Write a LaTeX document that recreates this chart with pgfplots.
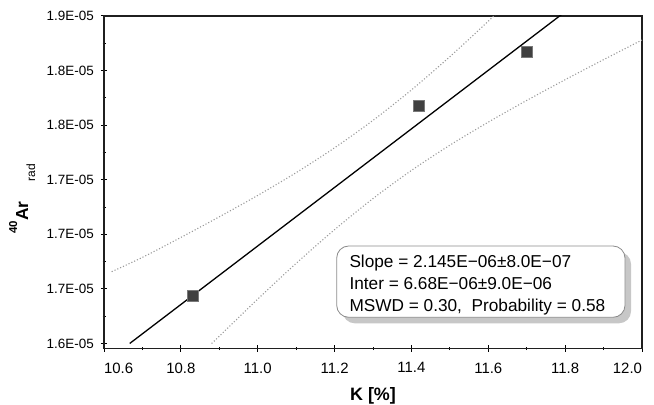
\documentclass[border=0pt]{standalone}
\usepackage{pgfplots}
\pgfplotsset{compat=1.18}
\usepackage{fontspec}
\setmainfont{Liberation Sans}
\definecolor{mk}{HTML}{404040}
\definecolor{band}{HTML}{9A9A9A}
\begin{document}
\begin{tikzpicture}
\useasboundingbox (-104bp,-56.5bp) rectangle (550bp,348.5bp);
\begin{axis}[
  at={(0,0)}, anchor=south west,
  scale only axis, width=538bp, height=332.5bp,
  xmin=10.6, xmax=12.0, ymin=1.6163, ymax=1.86,
  xtick={10.6,10.8,11.0,11.2,11.4,11.6,11.8,12.0},
  xticklabels={{\makebox[0pt][l]{10.6}},10.8,11.0,11.2,11.4,11.6,11.8,{\makebox[0pt][r]{12.0}}},
  minor x tick num=1,
  ytick={1.62,1.66,1.70,1.74,1.78,1.82,1.86},
  yticklabels={1.6E-05,1.7E-05,1.7E-05,1.7E-05,1.8E-05,1.8E-05,1.9E-05},
  minor y tick num=1,
  tick pos=left,
  tick align=center,
  major tick length=6bp, minor tick length=3bp,
  tick style={black, line width=1bp},
  axis line style={line width=1.6bp, color=black!88},
  xticklabel style={font=\fontsize{15}{15}\selectfont, anchor=north, inner sep=0pt, yshift=-11bp},
  yticklabel style={font=\fontsize{13.5}{13.5}\selectfont, anchor=east, inner sep=0pt, xshift=-7bp},
  clip=true,
]
\addplot[band, dotted, line width=1.1bp, smooth] coordinates {
  (10.62,1.6726) (10.7,1.6831) (10.8,1.6977) (10.9,1.7128) (11.0,1.7285) (11.1,1.7452)
  (11.2,1.7634) (11.3,1.7835) (11.4,1.8058) (11.5,1.8302) (11.6,1.8562) (11.7,1.8832)};
\addplot[band, dotted, line width=1.1bp, smooth] coordinates {
  (10.88,1.6200) (10.9,1.6253) (11.0,1.6525) (11.1,1.6787) (11.2,1.7034) (11.3,1.7262)
  (11.4,1.7468) (11.5,1.7653) (11.6,1.7822) (11.7,1.7981) (11.8,1.8133) (11.9,1.8280) (12.0,1.8424)};
\addplot[black, line width=1.3bp] coordinates {(10.667,1.62) (11.8,1.8631)};
\addplot[only marks, mark=square*, mark size=5.5bp, mark options={fill=mk, draw=mk!70!white, line width=0.5bp}]
  coordinates {(10.831,1.655) (11.420,1.794) (11.701,1.834)};
\end{axis}
% text box
\fill[black!22, rounded corners=12bp] (238.7bp,25.2bp) rectangle (527bp,96.5bp);
\draw[black!45, line width=0.8bp, fill=white, rounded corners=12bp] (232.7bp,31.2bp) rectangle (521bp,102.5bp);
\begin{scope}[every node/.style={anchor=base west, inner sep=0pt, font=\fontsize{17.3}{17.3}\selectfont}]
\node at (245.3bp,81bp) {Slope = 2.145E−06±8.0E−07};
\node at (245.3bp,59bp) {Inter = 6.68E−06±9.0E−06};
\node at (245.3bp,37bp) {MSWD = 0.30, \ Probability = 0.58};
\end{scope}
% axis labels
\node[anchor=base, inner sep=0pt, font=\bfseries\fontsize{18}{18}\selectfont] at (269bp,-51.5bp) {K [\%]};
\node[rotate=90, anchor=center, inner sep=0pt] at (-81.7bp,149.5bp)
  {\bfseries{\fontsize{11.5}{11.5}\selectfont\raisebox{11bp}{40}}{\fontsize{17.5}{17.5}\selectfont Ar}\hspace{20bp}{\mdseries\fontsize{12}{12}\selectfont\raisebox{-7bp}{rad}}};
\end{tikzpicture}
\end{document}
